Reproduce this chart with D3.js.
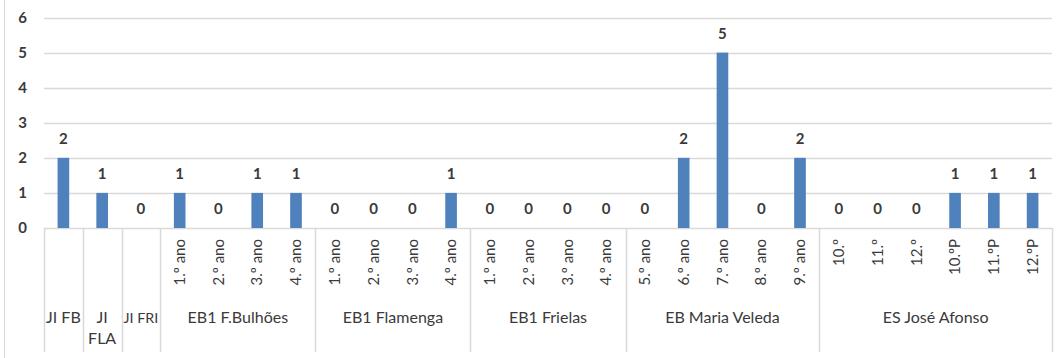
<!DOCTYPE html>
<html>
<head>
<meta charset="utf-8">
<script src="https://cdnjs.cloudflare.com/ajax/libs/d3/7.8.5/d3.min.js"></script>
<style>
  body { margin: 0; background: #fff; }
  svg { display: block; }
</style>
</head>
<body>
<div id="chart"></div>
<script>
// sub-level labels of the category axis (empty for the JI ones)
var subLabels = ["", "", "",
  "1.º ano", "2.º ano", "3.º ano", "4.º ano",
  "1.º ano", "2.º ano", "3.º ano", "4.º ano",
  "1.º ano", "2.º ano", "3.º ano", "4.º ano",
  "5.º ano", "6.º ano", "7.º ano", "8.º ano", "9.º ano",
  "10.º", "11.º", "12.º", "10.ºP", "11.ºP", "12.ºP"];

// schools (top level) and how many sub categories each one has
var groupNames = ["JI FB", "JI\nFLA", "JI FRI", "EB1 F.Bulhões", "EB1 Flamenga",
  "EB1 Frielas", "EB Maria Veleda", "ES José Afonso"];
var groupSizes = [1, 1, 1, 4, 4, 4, 5, 6];

// values per category
var values = [2, 1, 0,
  1, 0, 1, 1,
  0, 0, 0, 1,
  0, 0, 0, 0,
  0, 2, 5, 0, 2,
  0, 0, 0, 1, 1, 1];

var yTicks = [0, 1, 2, 3, 4, 5, 6];

window.onload = function() {
  main();
};

function main() {
  var width = 1064,
      height = 358,
      margin = { top: 17.5, right: 12, bottom: 130, left: 44 };

  var svg = d3.select("#chart")
    .append("svg")
    .attr("width", width)
    .attr("height", height)
    .style("font-family", "Lato, 'Open Sans', sans-serif");

  // x scale over category index, y over the count
  var x = d3.scaleBand()
    .domain(d3.range(values.length))
    .range([margin.left, width - margin.right])
    .padding(0);

  var y = d3.scaleLinear()
    .domain([0, 6])
    .range([height - margin.bottom, margin.top]);

  var textColor = "#3a3a3a";
  var lineColor = "#d9d9d9";

  // outer border of the chart on the left
  svg.append("line")
    .attr("x1", 4.5).attr("x2", 4.5)
    .attr("y1", 0).attr("y2", height)
    .attr("stroke", lineColor);

  // gridlines
  svg.append("g")
    .selectAll("line")
    .data(yTicks)
    .join("line")
    .attr("x1", margin.left)
    .attr("x2", width - margin.right)
    .attr("y1", d => Math.round(y(d)) + 0.5)
    .attr("y2", d => Math.round(y(d)) + 0.5)
    .attr("stroke", lineColor)
    .attr("stroke-width", 1.5);

  // y axis labels
  svg.append("g")
    .selectAll("text")
    .data(yTicks)
    .join("text")
    .attr("x", 27)
    .attr("y", d => y(d))
    .attr("dy", "0.35em")
    .attr("text-anchor", "end")
    .attr("font-size", 15)
    .attr("font-weight", "bold")
    .attr("fill", textColor)
    .text(d => d);

  // bars
  var barW = x.bandwidth() * 0.3;
  svg.append("g")
    .selectAll("rect")
    .data(values)
    .join("rect")
    .attr("x", (d, i) => x(i) + (x.bandwidth() - barW) / 2)
    .attr("width", barW)
    .attr("y", d => y(d))
    .attr("height", d => y(0) - y(d))
    .attr("fill", "#4f81bd");

  // value labels
  svg.append("g")
    .selectAll("text")
    .data(values)
    .join("text")
    .attr("x", (d, i) => x(i) + x.bandwidth() / 2)
    .attr("y", d => y(d) - 14)
    .attr("text-anchor", "middle")
    .attr("font-size", 15)
    .attr("font-weight", "bold")
    .attr("fill", textColor)
    .text(d => d);

  // category axis: dividers between schools
  var axisBottom = 352;
  var starts = [0];
  groupSizes.forEach(function(s, i) { starts.push(starts[i] + s); });

  svg.append("g")
    .selectAll("line")
    .data(starts)
    .join("line")
    .attr("x1", d => Math.round(d < values.length ? x(d) : x.range()[1]) + 0.5)
    .attr("x2", d => Math.round(d < values.length ? x(d) : x.range()[1]) + 0.5)
    .attr("y1", y(0))
    .attr("y2", axisBottom)
    .attr("stroke", lineColor)
    .attr("stroke-width", 1.5);

  // sub labels, rotated
  svg.append("g")
    .selectAll("text")
    .data(subLabels)
    .join("text")
    .attr("transform", (d, i) => "translate(" + (x(i) + x.bandwidth() / 2) + "," + (y(0) + 11) + ") rotate(-90)")
    .attr("dy", "0.35em")
    .attr("text-anchor", "end")
    .attr("font-size", 15)
    .attr("fill", textColor)
    .text(d => d);

  // school names
  var groupText = svg.append("g")
    .selectAll("text")
    .data(groupNames)
    .join("text")
    .attr("x", (d, i) => {
      var a = x(starts[i]);
      var b = starts[i + 1] < values.length ? x(starts[i + 1]) : x.range()[1];
      return (a + b) / 2;
    })
    .attr("y", 323)
    .attr("text-anchor", "middle")
    .attr("font-size", 16)
    .attr("fill", textColor);

  groupText.each(function(d, i) {
    var el = d3.select(this);
    d.split("\n").forEach(function(part, k) {
      el.append("tspan")
        .attr("x", el.attr("x"))
        .attr("dy", k === 0 ? 0 : 21)
        .text(part);
    });
    // shrink the narrow labels so they stay between the dividers
    var room = x.bandwidth() * groupSizes[i] - 4;
    var len = this.getComputedTextLength();
    if (d.indexOf("\n") < 0 && len > room) {
      el.attr("font-size", 16 * room / len);
    }
  });
}
</script>
</body>
</html>
